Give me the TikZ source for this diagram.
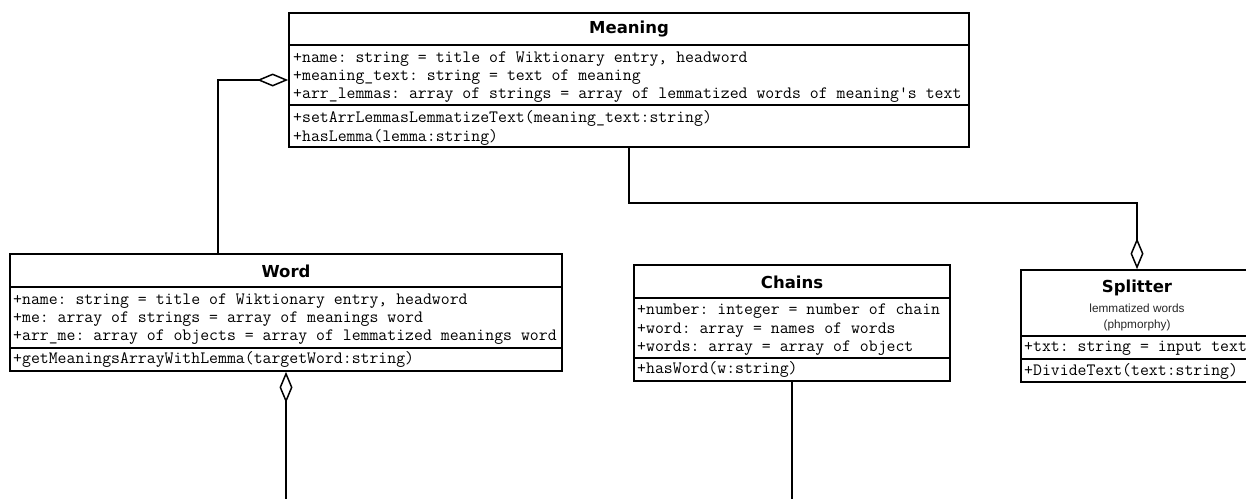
\documentclass[tikz,border=0pt]{standalone}
\usepackage{fontspec}
\setmainfont{DejaVu Sans}
\newfontfamily\subf{Liberation Sans}
\usetikzlibrary{arrows.meta}
\frenchspacing
\tikzset{
  cls/.style={draw, line width=1.7pt, inner sep=0pt, rectangle},
  sepline/.style={line width=1.5pt},
  row/.style={anchor=west, inner sep=0pt, font=\frenchspacing\ttfamily\fontsize{17.3}{18}\selectfont, text=black},
  ttl/.style={inner sep=0pt, font=\bfseries\fontsize{16.5}{18}\selectfont},
  subt/.style={inner sep=0pt, font=\subf\fontsize{11.8}{13}\selectfont, text=black!85},
  conn/.style={line width=1.8pt},
  aggend/.style={-{Diamond[open, length=31pt, width=13pt, line width=1.5pt]}},
  aggstart/.style={{Diamond[open, length=31pt, width=13pt, line width=1.5pt]}-}
}
\begin{document}
\begin{tikzpicture}[x=1pt,y=-1pt]
\useasboundingbox (0,0) rectangle (1246,499);

% ---- Meaning ----
\node[cls, minimum width=680pt, minimum height=134pt] (meaning) at (629,80) {};
\draw[sepline] (meaning.west |- 0,45) -- (meaning.east |- 0,45);
\draw[sepline] (meaning.west |- 0,105) -- (meaning.east |- 0,105);
\node[ttl] (meaningT) at (629,29) {Meaning};
\node[row] (m1) at (293,59) {+name: string = title of Wiktionary entry, headword};
\node[row] (m2) at (293,77) {+meaning\_text: string = text of meaning};
\node[row] (m3) at (293,95) {+arr\_lemmas: array of strings = array of lemmatized words of meaning's text};
\node[row] (m4) at (293,118) {+setArrLemmasLemmatizeText(meaning\_text:string)};
\node[row] (m5) at (293,137) {+hasLemma(lemma:string)};

% ---- Word ----
\node[cls, minimum width=552pt, minimum height=117pt] (word) at (286,312.5) {};
\draw[sepline] (word.west |- 0,287) -- (word.east |- 0,287);
\draw[sepline] (word.west |- 0,348) -- (word.east |- 0,348);
\node[ttl] (wordT) at (286,271) {Word};
\node[row] (w1) at (13,301) {+name: string = title of Wiktionary entry, headword};
\node[row] (w2) at (13,319) {+me: array of strings = array of meanings word};
\node[row] (w3) at (13,337) {+arr\_me: array of objects = array of lemmatized meanings word};
\node[row] (w4) at (13,359) {+getMeaningsArrayWithLemma(targetWord:string)};

% ---- Chains ----
\node[cls, minimum width=316pt, minimum height=116pt] (chains) at (792,323) {};
\draw[sepline] (chains.west |- 0,298) -- (chains.east |- 0,298);
\draw[sepline] (chains.west |- 0,358) -- (chains.east |- 0,358);
\node[ttl] (chainsT) at (792,282) {Chains};
\node[row] (c1) at (637,311) {+number: integer = number of chain};
\node[row] (c2) at (637,330) {+word: array = names of words};
\node[row] (c3) at (637,348) {+words: array = array of object};
\node[row] (c4) at (637,369) {+hasWord(w:string)};

% ---- Splitter ----
\node[cls, minimum width=232pt, minimum height=112pt] (splitter) at (1137,326) {};
\draw[sepline] (splitter.west |- 0,336) -- (splitter.east |- 0,336);
\draw[sepline] (splitter.west |- 0,359) -- (splitter.east |- 0,359);
\node[ttl] (splitterT) at (1137,288) {Splitter};
\node[subt] (s1) at (1137,308) {lemmatized words};
\node[subt] (s2) at (1137,325) {(phpmorphy)};
\node[row] (s3) at (1024,348) {+txt: string = input text};
\node[row] (s4) at (1024,371) {+DivideText(text:string)};

% ---- connectors ----
\coordinate (wordEnd) at (286,499);
\coordinate (chainsEnd) at (792,499);
\draw[conn, aggend] (word.north -| 218,0) |- (meaning.west);
\draw[conn, aggend] (meaning.south) -- ++(0,55) -| (splitter.north);
\draw[conn, aggstart] (word.south) -- (wordEnd);
\draw[conn] (chains.south) -- (chainsEnd);
\end{tikzpicture}
\end{document}
